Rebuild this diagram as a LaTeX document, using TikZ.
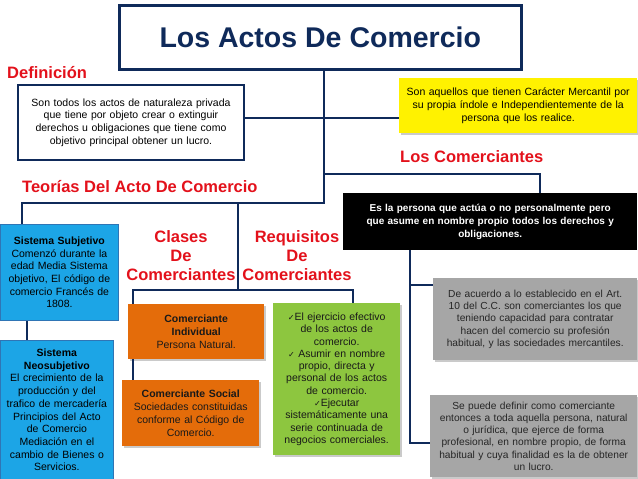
\documentclass[tikz,border=0pt]{standalone}
\usepackage{fontspec}
\setmainfont{Liberation Sans}
\newfontfamily\symfont{DejaVu Sans}
\usetikzlibrary{shadows}
\definecolor{navy}{HTML}{0F2A5A}
\definecolor{redtxt}{HTML}{E3111B}
\definecolor{orangec}{HTML}{E46C0A}
\definecolor{greenc}{HTML}{8DC63F}
\definecolor{grayc}{HTML}{A6A6A6}
\definecolor{bluec}{HTML}{1CA5E6}
\definecolor{blueline}{HTML}{2F75B5}
\newcommand{\ck}{{\symfont\fontsize{8}{10}\selectfont\char"2713}}
\begin{document}
\begin{tikzpicture}[x=1pt,y=-1pt,
    conn/.style={draw=navy, line width=2pt},
    heading/.style={text=redtxt, font=\bfseries\fontsize{16.5}{19}\selectfont, inner sep=0pt},
    box/.style={rectangle, align=center, inner sep=0pt, anchor=north west,
      font=\fontsize{10.5}{12.7}\selectfont},
    soft/.style={drop shadow={shadow xshift=1.5pt, shadow yshift=-1.5pt, opacity=.35, fill=black!60}},
    navybox/.style={box, draw=navy, line width=2pt, fill=white},
    bluebox/.style={box, fill=bluec, draw=blueline, line width=.8pt, text=black},
    orangebox/.style={box, soft, fill=orangec, text=black!90},
    greenbox/.style={box, soft, fill=greenc, text=black!90},
    graybox/.style={box, soft, fill=grayc, text=black!85, font=\fontsize{10.2}{12.2}\selectfont}]
  \useasboundingbox (0,0) rectangle (638,479);

  \node (title)  [navybox, line width=2.5pt, minimum width=402, minimum height=64,
                  text=navy, font=\bfseries\fontsize{28.5}{32}\selectfont] at (118,4) {Los Actos De Comercio};
  \node (deflbl) [heading, anchor=west] at (7,73) {Definición};
  \node (defbox) [navybox, minimum width=226, minimum height=75, text width=220] at (17,84)
    {Son todos los actos de naturaleza privada\\que tiene por objeto crear o extinguir\\derechos u obligaciones que tiene como\\objetivo principal obtener un lucro.};
  \node (yellow) [box, soft, fill=yellow, minimum width=238, minimum height=55, text width=232] at (399,78)
    {Son aquellos que tienen Carácter Mercantil por\\su propia índole e Independientemente de la\\persona que los realice.};
  \node (comlbl) [heading, anchor=west] at (400,157) {Los Comerciantes};
  \node (teolbl) [heading, anchor=west] at (22,187) {Teorías Del Acto De Comercio};

  \node (black)  [box, fill=black, text=white, minimum width=294, minimum height=57, text width=290,
                  font=\bfseries\fontsize{10}{12.7}\selectfont] at (343,193)
    {Es la persona que actúa o no personalmente pero\\que asume en nombre propio todos los derechos y\\obligaciones.};
  \node (gray1)  [graybox, minimum width=204, minimum height=82, text width=202] at (433,278)
    {De acuerdo a lo establecido en el Art.\\10 del C.C. son comerciantes los que\\teniendo capacidad para contratar\\hacen del comercio su profesión\\habitual, y las sociedades mercantiles.};
  \node (gray2)  [graybox, minimum width=207, minimum height=82, text width=205] at (430,395)
    {Se puede definir como comerciante\\entonces a toda aquella persona, natural\\o jurídica, que ejerce de forma\\profesional, en nombre propio, de forma\\habitual y cuya finalidad es la de obtener\\un lucro.};

  \node (subj)   [bluebox, minimum width=118, minimum height=96, text width=114] at (0,224)
    {\textbf{Sistema Subjetivo}\\Comenzó durante la\\edad Media Sistema\\objetivo, El código de\\comercio Francés de\\1808.};
  \node (neo)    [bluebox, minimum width=113, minimum height=139, text width=111] at (0,340)
    {\textbf{Sistema}\\\textbf{Neosubjetivo}\\El crecimiento de la\\producción y del\\trafico de mercadería\\Principios del Acto\\de Comercio\\Mediación en el\\cambio de Bienes o\\Servicios.};

  \node (claslbl) [heading, align=center, anchor=north] at (181,230) {Clases\\De\\Comerciantes};
  \node (reqlbl)  [heading, align=center, anchor=north] at (297,230) {Requisitos\\De\\Comerciantes};

  \node (indiv)  [orangebox, minimum width=136, minimum height=55, text width=132] at (128,304)
    {\textbf{Comerciante}\\\textbf{Individual}\\Persona Natural.};
  \node (social) [orangebox, minimum width=137, minimum height=66, text width=135] at (122,380)
    {\textbf{Comerciante Social}\\Sociedades constituidas\\conforme al Código de\\Comercio.};
  \node (req)    [greenbox, minimum width=127, minimum height=152, text width=125,
                  font=\fontsize{10.5}{12.3}\selectfont] at (273,303)
    {\ck El ejercicio efectivo\\de los actos de\\comercio.\\\ck\ Asumir en nombre\\propio, directa y\\personal de los actos\\de comercio.\\\ck Ejecutar\\sistemáticamente una\\serie continuada de\\negocios comerciales.};

  \coordinate (jdef)  at (324,118);
  \coordinate (jtop)  at (324,174);
  \coordinate (jteo)  at (324,203);
  \coordinate (jcl)   at (238,203);
  \coordinate (jsub)  at (22,203);
  \coordinate (jcls)  at (238,290);
  \coordinate (jleft) at (133,290);
  \coordinate (jrght) at (353,290);
  \coordinate (jcom)  at (410,250);
  \coordinate (jg1)   at (410,285);
  \coordinate (jg2)   at (410,443);

  \draw[conn] (title.south -| jteo) -- (jteo) -- (jsub) -- (subj.north -| jsub);
  \draw[conn] (defbox.east |- jdef) -- (yellow.west |- jdef);
  \draw[conn] (jtop) -| (black.north -| 540,0);
  \draw[conn] ([xshift=-32pt]subj.south) -- ([xshift=-32pt]subj.south |- neo.north);
  \draw[conn] (jcl) -- (jcls);
  \draw[conn] (indiv.north -| jleft) -- (jleft) -- (jrght) -- (req.north -| jrght);
  \draw[conn] (indiv.south -| jleft) -- (social.north -| jleft);
  \draw[conn] (black.south -| jcom) -- (jg2) -- (gray2.west |- jg2);
  \draw[conn] (jg1) -- (gray1.west |- jg1);
\end{tikzpicture}
\end{document}
